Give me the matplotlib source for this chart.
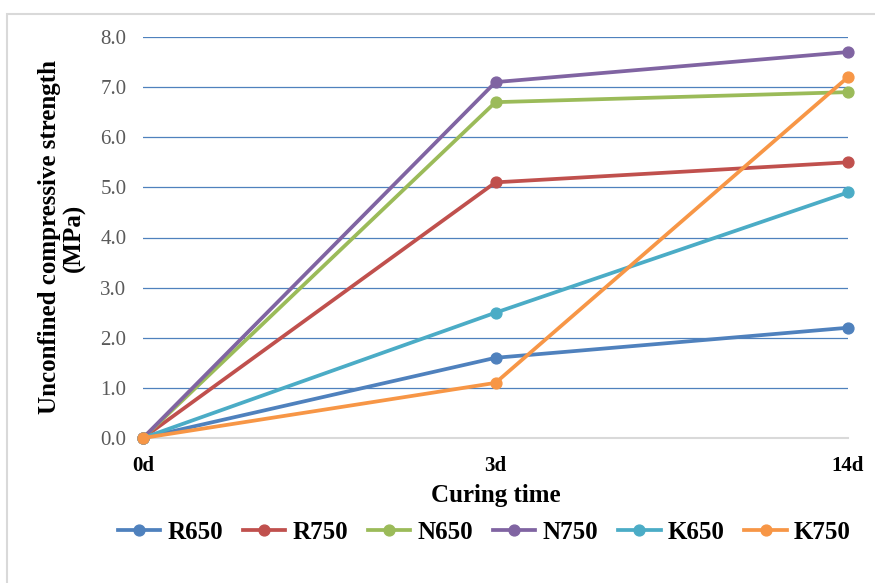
#!/usr/bin/env python3
import numpy as np
import matplotlib
matplotlib.use("Agg")
import matplotlib.pyplot as plt
from matplotlib.patches import Rectangle

# ------------------------
# Data
# ------------------------
curing_days = ["0d", "3d", "14d"]

r650 = [0.0, 1.6, 2.2]
r750 = [0.0, 5.1, 5.5]
n650 = [0.0, 6.7, 6.9]
n750 = [0.0, 7.1, 7.7]
k650 = [0.0, 2.5, 4.9]
k750 = [0.0, 1.1, 7.2]

series_names = ["R650", "R750", "N650", "N750", "K650", "K750"]
series_vals = [r650, r750, n650, n750, k650, k750]
colors = ["#4F81BD", "#C0504D", "#9BBB59", "#8064A2", "#4BACC6", "#F79646"]

y_ticks = np.arange(0, 9, 1.0)


def main():
    plt.rcParams["font.family"] = ["Liberation Serif", "DejaVu Serif"]

    fig = plt.figure(figsize=(8.75, 5.83), dpi=100)
    ax = fig.add_axes([143 / 875, 1 - 438 / 583, 705 / 875, 401 / 583])

    # light gray chart-area frame (only left/top visible in the reference)
    fig.patches.append(Rectangle((7 / 875, -0.05), 1.2, 1 - 14 / 583 + 0.05,
                                 transform=fig.transFigure, fill=False,
                                 edgecolor="#D9D9D9", linewidth=1.5, zorder=0))

    x = np.arange(len(curing_days))
    for name, vals, c in zip(series_names, series_vals, colors):
        ax.plot(x, vals, color=c, linewidth=2.7, marker="o", markersize=7.8,
                label=name, clip_on=False, zorder=3)

    ax.set_xlim(0, len(curing_days) - 1)
    ax.set_ylim(0, 8)
    ax.set_yticks(y_ticks)
    ax.set_yticklabels([f"{v:.1f}" for v in y_ticks])
    ax.set_xticks(x)
    ax.set_xticklabels(curing_days, fontweight="bold")

    ax.grid(axis="y", color="#4F81BD", linewidth=0.9)
    ax.set_axisbelow(True)
    for s in ["left", "right", "top"]:
        ax.spines[s].set_visible(False)
    ax.spines["bottom"].set_color("#D9D9D9")
    ax.spines["bottom"].set_linewidth(1.5)
    ax.spines["bottom"].set_zorder(2)

    ax.tick_params(axis="y", length=0, pad=12, labelsize=15, labelcolor="#595959")
    ax.tick_params(axis="x", length=0, pad=13, labelsize=15, labelcolor="black")

    ax.set_xlabel("Curing time", fontsize=18, fontweight="bold", labelpad=6)
    ax.set_ylabel("Unconfined compressive strength\n(MPa)", fontsize=18,
                  fontweight="bold", linespacing=1.1, labelpad=10)

    ax.legend(loc="center", bbox_to_anchor=(0.484, -0.235), ncol=6,
              frameon=False, prop={"size": 18, "weight": "bold"},
              handlelength=1.7, handletextpad=0.28, columnspacing=0.8,
              borderaxespad=0)

    fig.savefig("out.png", dpi=100)


if __name__ == "__main__":
    main()
